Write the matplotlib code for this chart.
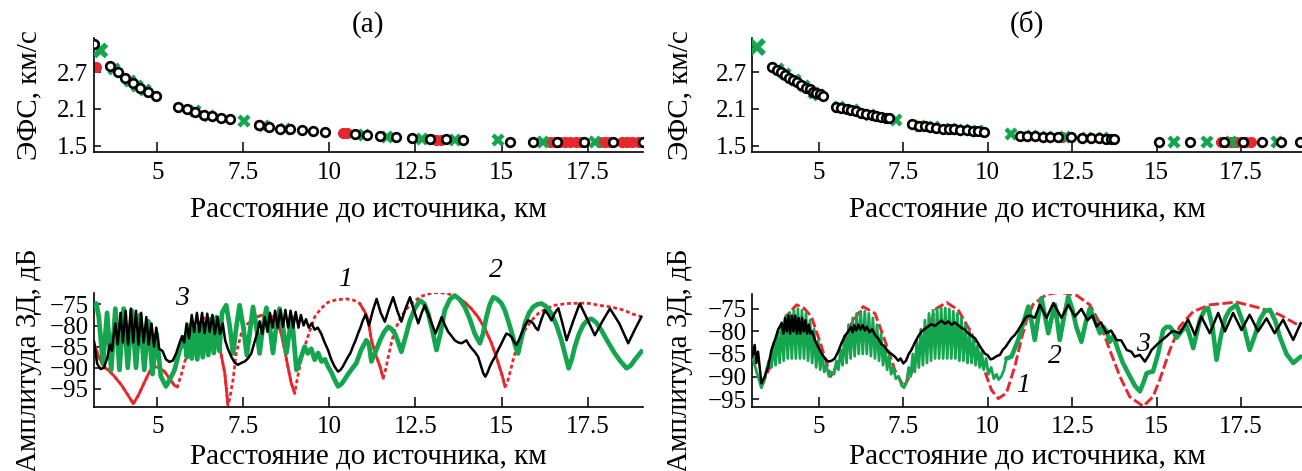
import matplotlib
matplotlib.use("Agg")
import matplotlib.pyplot as plt
import numpy as np

plt.rcParams["font.family"] = ["Liberation Serif", "DejaVu Serif"]
plt.rcParams["axes.unicode_minus"] = True

RED = "#e8262d"
GREEN = "#14a54f"
BLACK = "#000000"

X_TICKS = [5, 7.5, 10, 12.5, 15, 17.5]
X_TICK_LABELS = ["5", "7.5", "10", "12.5", "15", "17.5"]
V_TICKS = [1.5, 2.1, 2.7]
A_TICKS = [-95, -90, -85, -80, -75]
X_LABEL = "Расстояние до источника, км"
V_LABEL = "ЭФС, км/с"
A_LABEL = "Амплитуда ЗД, дБ"

# ---------------- (а) group velocity points ----------------
a_circ_x = [3.15, 3.62, 3.86, 4.07, 4.30, 4.51, 4.73, 4.97,
            5.60, 5.86, 6.10, 6.36, 6.60, 6.86, 7.12,
            7.94, 8.24, 8.55, 8.86, 9.20, 9.53, 9.88,
            10.73, 11.08, 11.47, 11.93, 12.41, 12.92, 13.40, 13.89,
            15.26, 15.92, 16.62, 17.39, 18.24, 19.10]
a_circ_y = [3.17, 2.81, 2.70, 2.60, 2.52, 2.45, 2.38, 2.32,
            2.14, 2.10, 2.05, 2.01, 1.99, 1.96, 1.93,
            1.84, 1.81, 1.78, 1.77, 1.75, 1.74, 1.72,
            1.69, 1.675, 1.66, 1.64, 1.62, 1.61, 1.605, 1.60,
            1.565, 1.565, 1.56, 1.56, 1.555, 1.555]
a_cross_x = [3.33, 3.75, 4.20, 4.42, 4.65, 6.10, 6.50, 7.51, 8.10, 8.70,
             11.00, 11.66, 12.68, 13.64, 14.90, 16.21, 17.71]
a_cross_y = [3.06, 2.76, 2.56, 2.48, 2.41, 2.06, 1.99, 1.90, 1.83, 1.78,
             1.68, 1.65, 1.61, 1.60, 1.59, 1.565, 1.56]
a_dot_x = [3.23, 6.35, 7.95, 8.20, 10.40, 10.52, 12.95, 13.10, 13.25,
           16.40, 16.55, 16.70, 16.85, 17.00, 17.15, 17.30,
           17.85, 18.00, 18.15, 18.50, 18.65, 18.80, 18.95, 19.10]
a_dot_y = [2.79, 2.01, 1.84, 1.82, 1.70, 1.70, 1.605, 1.60, 1.60,
           1.565, 1.565, 1.565, 1.565, 1.56, 1.56, 1.56,
           1.56, 1.56, 1.56, 1.555, 1.555, 1.555, 1.555, 1.555]

# ---------------- (б) group velocity points ----------------
b_circ_x = [3.62, 3.75, 3.88, 3.99, 4.12, 4.24, 4.36, 4.48, 4.61, 4.73, 4.83, 4.93, 5.03, 5.13,
            5.52, 5.67, 5.82, 5.96, 6.11, 6.26, 6.41, 6.56, 6.70, 6.85, 7.00, 7.07,
            7.75, 7.95, 8.13, 8.30, 8.48, 8.66, 8.84, 9.01, 9.19, 9.37, 9.55, 9.72, 9.90,
            10.95, 11.17, 11.40, 11.62, 11.85, 12.08, 12.45, 12.78, 13.05, 13.30, 13.50, 13.65, 13.75,
            15.07, 15.98, 16.99, 17.54, 18.13, 18.69, 19.23]
b_circ_y = [2.78, 2.74, 2.70, 2.66, 2.61, 2.57, 2.54, 2.49, 2.45, 2.42, 2.38, 2.36, 2.34, 2.32,
            2.14, 2.12, 2.10, 2.08, 2.06, 2.03, 2.02, 2.00, 1.99, 1.97, 1.96, 1.95,
            1.85, 1.83, 1.815, 1.80, 1.79, 1.78, 1.77, 1.765, 1.76, 1.75, 1.745, 1.74, 1.73,
            1.665, 1.66, 1.655, 1.65, 1.645, 1.64, 1.635, 1.63, 1.625, 1.62, 1.615, 1.61, 1.61,
            1.565, 1.565, 1.56, 1.56, 1.56, 1.555, 1.555]
b_cross_x = [3.16, 3.80, 4.00, 4.30, 4.55, 4.85, 5.00, 5.60, 6.00, 6.50, 7.27,
             8.00, 8.40, 8.90, 9.30, 9.70, 10.70, 11.30, 11.75, 12.30, 12.95, 13.40,
             15.50, 16.50, 17.20, 18.55]
b_cross_y = [3.12, 2.75, 2.68, 2.57, 2.47, 2.36, 2.33, 2.13, 2.08, 2.01, 1.92,
             1.83, 1.80, 1.78, 1.76, 1.745, 1.69, 1.66, 1.65, 1.64, 1.63, 1.62,
             1.565, 1.565, 1.56, 1.555]
b_dot_x = [9.00, 12.20, 16.90, 17.05, 17.20, 17.35, 17.50, 17.65, 17.80]
b_dot_y = [1.77, 1.64, 1.56, 1.56, 1.56, 1.56, 1.56, 1.56, 1.56]

# ---------------- (а) amplitude curves ----------------
a_red_x = [3.16, 3.30, 3.45, 3.57, 3.75, 3.95, 4.15, 4.30, 4.45, 4.65, 4.80, 4.92, 5.05, 5.20,
           5.35, 5.50, 5.58, 5.70, 5.85, 6.00, 6.15, 6.30, 6.45, 6.60, 6.81, 6.96, 7.05,
           7.10, 7.20, 7.29, 7.44, 7.60, 7.73, 7.88, 8.02, 8.26, 8.40, 8.50, 8.60, 8.70, 8.80,
           8.89, 8.99, 9.08, 9.18, 9.28, 9.42, 9.57, 9.75, 9.96, 10.20, 10.49, 10.70, 10.88,
           11.03, 11.12, 11.22, 11.35, 11.47, 11.56, 11.63, 11.71, 11.80, 11.90, 12.02, 12.14,
           12.30, 12.48, 12.70, 12.97, 13.20, 13.45, 13.70, 13.93, 14.12, 14.32, 14.52, 14.71,
           14.87, 15.00, 15.10, 15.17, 15.24, 15.31, 15.39, 15.52, 15.68, 15.85, 16.06, 16.30,
           16.55, 16.90, 17.32, 17.60, 17.81, 18.10, 18.39, 18.60, 18.77, 18.95, 19.10]
a_red_y = [-84.2, -87.5, -89.8, -90.5, -92.0, -94.0, -96.5, -98.5, -96.5, -93.0, -90.5, -89.7, -90.0, -90.8,
           -92.5, -94.2, -94.5, -91.5, -87.0, -83.0, -80.0, -78.5, -78.0, -79.5, -85.0, -91.3, -98.7,
           -97.5, -92.8, -86.6, -81.9, -79.8, -78.8, -78.0, -77.6, -77.6, -78.2, -79.5, -82.0, -85.8, -90.0,
           -93.6, -96.0, -92.0, -88.0, -85.0, -81.5, -78.0, -76.0, -74.5, -73.9, -73.7, -74.0, -74.8,
           -76.8, -78.5, -83.5, -87.0, -89.7, -92.4, -90.5, -87.4, -84.0, -81.1, -79.0, -77.2,
           -75.5, -74.1, -73.0, -72.3, -72.2, -72.5, -73.2, -74.5, -76.0, -78.0, -80.8, -84.2,
           -88.0, -91.3, -94.4, -93.5, -91.3, -89.0, -86.6, -83.5, -81.1, -79.0, -77.2, -76.0,
           -75.2, -74.8, -74.7, -74.8, -75.2, -75.5, -76.0, -76.5, -77.2, -77.6, -78.0]
# stretches of curve 1 (а) drawn as a continuous line, the rest is dotted
a_red_solid = [(3.10, 5.60), (6.75, 7.06), (7.85, 9.00), (10.85, 11.57), (13.70, 15.11)]

a_grn_x = [3.16, 3.23, 3.30, 3.42, 3.54, 3.66, 3.78, 3.90, 4.02, 4.14, 4.26, 4.38, 4.50,
           4.62, 4.74, 4.86, 4.98, 5.10, 5.25, 5.38, 5.50, 5.58, 5.65, 5.72, 5.79, 5.86,
           5.93, 6.00, 6.08, 6.16, 6.24, 6.32, 6.40, 6.48, 6.56, 6.64, 6.72, 6.80, 6.88,
           7.00, 7.10, 7.20, 7.30, 7.39, 7.50, 7.60, 7.68, 7.78, 7.88, 7.97, 8.07, 8.17,
           8.27, 8.36, 8.45, 8.55, 8.65, 8.75, 8.83, 8.91, 9.04, 9.18, 9.28, 9.37, 9.47,
           9.57, 9.67, 9.77, 9.87, 9.96, 10.05, 10.15, 10.25, 10.35, 10.44, 10.54, 10.63,
           10.78, 10.92, 11.07, 11.15, 11.22, 11.35, 11.47, 11.59, 11.71, 11.80, 11.90,
           12.00, 12.09, 12.20, 12.34, 12.48, 12.63, 12.75, 12.87, 13.00, 13.11, 13.22,
           13.35, 13.50, 13.64, 13.78, 13.93, 14.08, 14.22, 14.37, 14.46, 14.56, 14.66,
           14.76, 14.88, 15.00, 15.10, 15.19, 15.29, 15.39, 15.48, 15.58, 15.68, 15.80,
           15.92, 16.04, 16.16, 16.30, 16.45, 16.60, 16.74, 16.85, 16.95, 17.04, 17.13,
           17.25, 17.37, 17.49, 17.61, 17.75, 17.90, 18.10, 18.29, 18.46, 18.63, 18.75,
           18.87, 19.06]
a_grn_y = [-75.5, -74.8, -78.0, -89.0, -77.0, -90.5, -76.0, -90.5, -76.0, -90.0, -76.5, -90.0, -77.5,
           -90.5, -79.0, -91.5, -82.0, -92.0, -94.4, -92.5, -90.5, -88.0, -85.8, -84.5, -82.7, -87.5,
           -80.0, -87.8, -80.5, -88.0, -79.5, -87.5, -79.5, -87.0, -78.5, -86.5, -78.0, -86.0, -77.0,
           -75.2, -80.0, -86.6, -80.0, -75.2, -80.5, -87.0, -82.0, -75.6, -80.5, -86.6, -80.0, -75.8,
           -80.5, -86.5, -80.5, -76.0, -80.5, -86.5, -82.0, -78.0, -90.5, -87.4, -85.0, -86.6, -85.5,
           -88.1, -86.5, -88.5, -88.0, -89.7, -91.0, -92.8, -94.4, -93.8, -92.8, -91.5, -90.5,
           -88.9, -85.8, -83.5, -84.5, -88.5, -86.0, -83.5, -81.5, -80.3, -80.8, -81.9,
           -84.0, -86.2, -83.0, -78.8, -76.0, -74.1, -74.8, -77.2, -81.5, -85.8, -82.0,
           -76.4, -73.8, -72.9, -73.8, -75.6, -78.5, -81.9, -84.2, -82.0, -78.0, -75.0,
           -73.3, -73.8, -74.8, -76.5, -78.8, -81.5, -84.6, -86.6, -83.0, -79.5, -77.0,
           -75.6, -75.0, -74.8, -75.5, -77.2, -80.0, -83.5, -87.0, -90.1, -88.0, -85.0,
           -82.0, -79.9, -78.8, -78.4, -79.3, -81.1, -84.0, -86.6, -88.5, -90.1, -89.5,
           -88.1, -86.2]

a_blk_x = [3.16, 3.25, 3.35, 3.45, 3.55, 3.62, 3.68, 3.72, 3.78, 3.85, 3.93, 4.00, 4.08,
           4.15, 4.23, 4.30, 4.38, 4.45, 4.53, 4.60, 4.68, 4.75, 4.83, 4.90, 4.97, 5.05,
           5.15, 5.25, 5.35, 5.45, 5.55, 5.65, 5.72, 5.78, 5.85, 5.92, 6.00, 6.07, 6.15,
           6.22, 6.30, 6.37, 6.45, 6.52, 6.60, 6.67, 6.75, 6.82, 6.90, 6.97, 7.05, 7.15,
           7.25, 7.34, 7.45, 7.54, 7.63, 7.73, 7.82, 7.90, 7.97, 8.05, 8.12, 8.20, 8.27,
           8.35, 8.42, 8.50, 8.57, 8.65, 8.72, 8.80, 8.87, 8.95, 9.02, 9.10, 9.17, 9.25,
           9.32, 9.40, 9.48, 9.57, 9.66, 9.76, 9.86, 9.96, 10.05, 10.15, 10.25, 10.32,
           10.39, 10.47, 10.54, 10.61, 10.68, 10.76, 10.83, 10.90, 10.97, 11.05, 11.15,
           11.26, 11.37, 11.49, 11.61, 11.73, 11.85, 11.97, 12.09, 12.21, 12.34, 12.46,
           12.58, 12.68, 12.77, 12.88, 12.97, 13.08, 13.17, 13.26, 13.36, 13.45, 13.55,
           13.64, 13.74, 13.84, 13.92, 13.98, 14.05, 14.13, 14.22, 14.32, 14.40, 14.47,
           14.53, 14.60, 14.66, 14.73, 14.81, 14.90, 15.00, 15.07, 15.14, 15.22, 15.29,
           15.36, 15.43, 15.50, 15.58, 15.68, 15.77, 15.85, 15.92, 15.99, 16.06, 16.16,
           16.26, 16.36, 16.45, 16.55, 16.65, 16.77, 16.89, 17.08, 17.27, 17.49, 17.71,
           17.93, 18.15, 18.42, 18.68, 18.87, 19.06]
a_blk_y = [-83.8, -89.0, -90.3, -90.0, -87.5, -84.5, -86.0, -83.0, -79.5, -84.5, -77.0, -84.0, -76.5,
           -84.5, -76.0, -84.0, -76.5, -84.5, -77.0, -84.0, -78.0, -84.5, -79.5, -85.0, -80.5, -85.5,
           -86.0, -88.0, -88.6, -88.3, -86.5, -84.0, -82.5, -84.0, -79.5, -83.0, -77.5, -81.5, -77.0,
           -81.5, -77.0, -81.8, -77.2, -81.5, -77.5, -82.0, -78.0, -82.0, -79.5, -83.5, -85.5, -87.4,
           -88.8, -89.3, -88.8, -88.5, -87.8, -86.6, -84.0, -81.9, -79.0, -82.0, -78.0, -81.5, -77.0,
           -80.5, -76.5, -80.5, -76.3, -80.3, -76.3, -80.5, -76.5, -80.5, -76.8, -80.5, -77.5, -80.0,
           -78.5, -80.5, -79.5, -81.0, -80.5, -81.9, -84.0, -85.8, -88.0, -89.7, -90.9, -90.5,
           -89.7, -88.5, -87.4, -86.5, -85.0, -83.5, -81.9, -80.5, -78.8, -77.4, -80.0,
           -76.5, -73.7, -77.0, -79.1, -76.0, -73.3, -76.5, -79.1, -76.0, -73.3, -76.5,
           -79.5, -77.0, -75.2, -77.5, -79.5, -81.9, -80.0, -78.0, -80.0, -81.5, -82.5,
           -83.5, -84.0, -84.2, -83.8, -83.5, -84.5, -85.4, -86.2, -87.4, -89.5, -91.3,
           -92.1, -91.0, -89.7, -88.5, -87.4, -85.8, -84.2, -83.0, -81.9, -82.2, -82.7,
           -83.8, -84.6, -83.5, -81.9, -80.0, -78.8, -79.0, -79.5, -80.5, -81.1, -78.5,
           -76.4, -77.5, -78.8, -77.0, -75.9, -79.5, -83.5, -79.0, -74.8, -78.5, -82.3,
           -79.0, -76.0, -79.5, -84.2, -81.0, -78.0]

# ---------------- (б) amplitude curves ----------------
b_red_x = [3.30, 3.55, 3.80, 4.05, 4.34, 4.55, 4.78, 5.08, 5.35, 5.67, 5.97, 6.31, 6.66, 6.95,
           7.25, 7.52, 7.84, 8.19, 8.48, 8.78, 9.12, 9.52, 9.86, 10.11, 10.31, 10.55, 10.80,
           11.00, 11.15, 11.34, 11.74, 12.13, 12.63, 13.02, 13.32, 13.61, 13.91, 14.20, 14.60,
           14.89, 15.09, 15.39, 15.68, 16.08, 16.57, 17.36, 18.05, 18.64, 19.26]
b_red_y = [-92.0, -88.0, -81.5, -76.5, -74.1, -74.8, -76.7, -83.4, -90.0, -85.6, -78.2, -74.5, -76.0, -81.9,
           -88.6, -92.3, -87.8, -79.7, -74.9, -73.6, -75.2, -80.4, -87.8, -93.0, -94.9, -93.7, -87.8,
           -81.5, -77.5, -74.0, -71.8, -71.3, -72.0, -74.1, -78.2, -84.1, -90.0, -94.5, -96.6,
           -94.5, -90.7, -84.1, -78.9, -75.6, -74.1, -73.5, -74.8, -76.3, -78.9]

b_grn_x = [3.05, 3.12, 3.20, 3.30, 3.38, 3.45, 3.52, 3.60, 3.66, 3.72, 3.78, 3.84, 3.90,
           3.96, 4.02, 4.08, 4.14, 4.20, 4.26, 4.32, 4.38, 4.44, 4.50, 4.56, 4.62, 4.68,
           4.74, 4.80, 4.86, 4.92, 4.98, 5.04, 5.10, 5.16, 5.22, 5.30, 5.38, 5.45, 5.52,
           5.58, 5.64, 5.70, 5.76, 5.82, 5.88, 5.94, 6.00, 6.06, 6.12, 6.18, 6.24, 6.30,
           6.36, 6.42, 6.48, 6.54, 6.60, 6.66, 6.72, 6.78, 6.84, 6.90, 6.96, 7.02, 7.08,
           7.14, 7.20, 7.28, 7.36, 7.45, 7.52, 7.60, 7.66, 7.72, 7.78, 7.84, 7.90, 7.96,
           8.02, 8.08, 8.14, 8.20, 8.26, 8.32, 8.38, 8.44, 8.50, 8.56, 8.62, 8.68, 8.74,
           8.80, 8.86, 8.92, 8.98, 9.04, 9.10, 9.16, 9.22, 9.28, 9.34, 9.40, 9.46, 9.52,
           9.58, 9.64, 9.70, 9.76, 9.82, 9.88, 9.95, 10.02, 10.10, 10.18, 10.26, 10.32,
           10.40, 10.48, 10.55, 10.70, 10.90, 11.05, 11.20, 11.30, 11.39, 11.49, 11.59,
           11.69, 11.79, 11.89, 11.99, 12.06, 12.13, 12.25, 12.38, 12.50, 12.62, 12.77,
           12.90, 13.02, 13.17, 13.32, 13.42, 13.52, 13.61, 13.72, 13.85, 14.00, 14.20,
           14.35, 14.50, 14.60, 14.70, 14.80, 14.89, 15.04, 15.19, 15.29, 15.39, 15.49,
           15.59, 15.73, 15.88, 15.98, 16.08, 16.18, 16.28, 16.40, 16.52, 16.65, 16.77,
           16.90, 17.03, 17.16, 17.36, 17.55, 17.75, 17.90, 18.05, 18.20, 18.35, 18.50,
           18.64, 18.84, 19.04, 19.26]
b_grn_y = [-86.0, -88.0, -90.0, -92.5, -91.0, -88.5, -86.5, -88.0, -82.5, -87.5, -80.0, -87.0, -78.0,
           -86.5, -76.5, -86.0, -75.8, -86.0, -75.3, -86.0, -75.0, -86.0, -75.3, -86.0, -76.0, -86.5,
           -77.5, -87.0, -79.5, -88.0, -82.0, -88.5, -85.0, -89.0, -87.5, -90.0, -89.0, -89.5, -86.5,
           -88.5, -84.0, -87.5, -81.0, -87.0, -78.5, -86.0, -77.0, -85.5, -76.0, -85.0, -75.5, -85.0,
           -75.5, -85.0, -76.0, -85.5, -77.0, -86.0, -78.5, -86.5, -80.5, -87.5, -83.0, -88.5, -85.5,
           -89.5, -88.0, -90.5, -90.0, -92.0, -92.5, -91.0, -88.0, -90.0, -85.0, -89.0, -82.0, -88.0,
           -79.5, -87.5, -77.5, -87.0, -76.0, -86.5, -75.3, -86.0, -75.0, -86.0, -74.8, -86.0, -74.8,
           -86.0, -75.0, -86.0, -75.5, -86.0, -76.0, -86.5, -77.0, -86.5, -78.5, -87.0, -80.0, -87.0,
           -81.5, -87.5, -83.0, -88.0, -84.5, -88.5, -86.0, -89.5, -88.0, -90.5, -89.5, -90.7,
           -90.0, -88.5, -86.0, -85.6, -81.9, -78.2, -74.5, -78.0, -81.9, -77.0, -72.6,
           -76.5, -80.4, -77.0, -74.1, -78.0, -81.9, -77.0, -72.3, -75.0, -79.0, -82.3,
           -78.0, -74.9, -77.5, -80.4, -79.0, -80.0, -82.3, -81.0, -84.0, -87.0, -89.9,
           -92.0, -93.3, -91.5, -89.3, -89.0, -88.9, -85.0, -79.7, -79.0, -79.0, -80.0,
           -81.4, -80.0, -78.7, -81.0, -83.7, -80.5, -77.4, -75.5, -74.8, -79.0, -86.3,
           -81.0, -77.0, -75.2, -74.1, -78.0, -84.1, -81.0, -77.4, -75.5, -75.2, -77.5,
           -81.1, -85.0, -87.0, -85.6]
# distance beyond which curve 2 (б) is drawn with the heavier stroke
b_grn_split = 10.55

b_blk_x = [3.03, 3.10, 3.15, 3.20, 3.30, 3.40, 3.50, 3.60, 3.70, 3.80, 3.90, 3.95, 4.00, 4.05,
           4.10, 4.15, 4.20, 4.25, 4.30, 4.35, 4.40, 4.45, 4.50, 4.55, 4.60, 4.65, 4.70, 4.75,
           4.80, 4.88, 5.08, 5.18, 5.28, 5.38, 5.47, 5.57, 5.67, 5.77, 5.87, 5.95, 6.00, 6.05,
           6.11, 6.17, 6.23, 6.30, 6.36, 6.42, 6.50, 6.58, 6.66, 6.75, 6.85, 6.95, 7.05, 7.15,
           7.25, 7.35, 7.42, 7.50, 7.58, 7.66, 7.74, 7.84, 7.94, 8.04, 8.13, 8.23, 8.33, 8.43,
           8.53, 8.63, 8.73, 8.83, 8.93, 9.02, 9.12, 9.22, 9.32, 9.42, 9.52, 9.62, 9.71, 9.81,
           9.91, 10.00, 10.08, 10.16, 10.26, 10.36, 10.45, 10.52, 10.60, 10.70, 10.80, 10.90,
           11.00, 11.14, 11.25, 11.39, 11.54, 11.74, 11.94, 12.18, 12.38, 12.58, 12.77, 12.95,
           13.10, 13.22, 13.35, 13.51, 13.65, 13.81, 13.95, 14.11, 14.25, 14.35, 14.50, 14.65,
           14.75, 14.85, 15.05, 15.29, 15.45, 15.54, 15.68, 15.93, 16.13, 16.32, 16.57, 16.82,
           17.02, 17.26, 17.51, 17.75, 18.00, 18.25, 18.49, 18.74, 19.04, 19.26]
b_blk_y = [-85.6, -83.0, -87.0, -84.5, -91.5, -90.0, -87.8, -84.0, -81.9, -79.5, -78.2, -80.5, -77.0, -80.0,
           -76.5, -80.5, -76.5, -80.0, -76.5, -80.5, -77.0, -80.5, -77.0, -80.0, -77.5, -80.5, -78.5, -80.5,
           -80.0, -81.9, -84.9, -86.0, -86.7, -86.5, -86.0, -84.5, -82.6, -81.0, -80.0, -79.0, -80.2, -78.6,
           -79.8, -78.5, -79.6, -78.6, -79.8, -79.0, -80.2, -79.5, -80.8, -81.5, -82.8, -83.4, -84.5, -85.0,
           -85.6, -86.5, -86.0, -87.1, -86.5, -85.0, -84.1, -82.5, -81.1, -80.0, -79.5, -78.9, -78.4, -78.8,
           -78.2, -77.6, -78.3, -77.8, -78.5, -78.0, -78.6, -79.2, -79.6, -80.4, -81.0, -81.5, -82.6, -83.8,
           -84.9, -85.3, -86.2, -86.0, -85.5, -85.2, -84.0, -83.5, -82.6, -81.5, -80.8, -79.7,
           -78.5, -76.7, -76.5, -77.0, -74.1, -77.0, -73.7, -77.0, -74.1, -76.7, -75.0, -77.5,
           -76.5, -78.9, -78.0, -80.4, -79.8, -81.9, -82.0, -84.1, -84.5, -85.6, -85.2, -86.7,
           -85.5, -84.1, -82.6, -81.1, -80.0, -80.0, -80.4, -77.4, -80.8, -76.7, -80.4, -75.9,
           -80.0, -75.9, -79.7, -76.3, -80.0, -77.1, -80.4, -77.4, -81.9, -78.2]

fig = plt.figure(figsize=(13.02, 4.71), dpi=100)
ax_va = fig.add_axes([0.0722, 0.6766, 0.4214, 0.2427])
ax_vb = fig.add_axes([0.5778, 0.6766, 0.4222, 0.2427])
ax_aa = fig.add_axes([0.0722, 0.1365, 0.4214, 0.2415])
ax_ab = fig.add_axes([0.5778, 0.1365, 0.4222, 0.2393])

FS_TICK = 18
FS_LAB = 21


def style(ax, xlim, ylim, yticks, ylabel, labelpad):
    ax.set_xlim(*xlim)
    ax.set_ylim(*ylim)
    for side in ("top", "right"):
        ax.spines[side].set_visible(False)
    for side in ("left", "bottom"):
        ax.spines[side].set_linewidth(1.2)
    ax.set_xticks(X_TICKS)
    ax.set_xticklabels(X_TICK_LABELS)
    ax.set_yticks(yticks)
    ax.tick_params(axis="x", direction="in", length=7, width=1.1, labelsize=FS_TICK, pad=7)
    ax.tick_params(axis="y", direction="in", length=5, width=1.1, labelsize=FS_TICK, pad=4)
    ax.set_xlabel(X_LABEL, fontsize=FS_LAB, labelpad=labelpad)
    ax.set_ylabel(ylabel, fontsize=FS_LAB)


def velocity(ax, cx, cy, gx, gy, rx, ry):
    ax.plot(rx, ry, linestyle="none", marker="o", markersize=7, color=RED,
            markeredgecolor=RED, zorder=2)
    ax.plot(gx, gy, linestyle="none", marker="x", markersize=7, markeredgewidth=3.2,
            color=GREEN, zorder=3)
    ax.plot(cx, cy, linestyle="none", marker="o", markersize=6.2, markerfacecolor="white",
            markeredgecolor=BLACK, markeredgewidth=1.9, zorder=4)


velocity(ax_va, a_circ_x, a_circ_y, a_cross_x, a_cross_y, a_dot_x, a_dot_y)
velocity(ax_vb, b_circ_x, b_circ_y, b_cross_x, b_cross_y, b_dot_x, b_dot_y)
# larger crosses at the start of each series
ax_va.plot(a_cross_x[:1], a_cross_y[:1], linestyle="none", marker="x", markersize=9,
           markeredgewidth=3.8, color=GREEN, zorder=3)
ax_vb.plot(b_cross_x[:1], b_cross_y[:1], linestyle="none", marker="x", markersize=10,
           markeredgewidth=4.0, color=GREEN, zorder=3)

style(ax_va, (3.16, 19.1), (1.392, 3.26), V_TICKS, V_LABEL, 9)
style(ax_vb, (3.03, 19.3), (1.392, 3.26), V_TICKS, V_LABEL, 9)

# curve 1 (а): dotted everywhere, continuous over the falling stretches
rx = np.array(a_red_x)
ry = np.array(a_red_y)
ax_aa.plot(rx, ry, color=RED, linewidth=2.0, linestyle=(0, (1.4, 1.0)), zorder=2)
for lo, hi in a_red_solid:
    m = (rx >= lo) & (rx <= hi)
    ax_aa.plot(rx[m], ry[m], color=RED, linewidth=2.0, zorder=2)
ax_aa.plot(a_grn_x, a_grn_y, color=GREEN, linewidth=3.4, zorder=3, solid_joinstyle="round")
ax_aa.plot(a_blk_x, a_blk_y, color=BLACK, linewidth=1.8, zorder=4)

ax_ab.plot(b_red_x, b_red_y, color=RED, linewidth=2.1, linestyle=(0, (3.5, 1.2)), zorder=2)
gx = np.array(b_grn_x)
gy = np.array(b_grn_y)
fast = gx <= b_grn_split
ax_ab.plot(gx[fast], gy[fast], color=GREEN, linewidth=2.0, zorder=3, solid_joinstyle="round")
slow = gx >= b_grn_split
ax_ab.plot(gx[slow], gy[slow], color=GREEN, linewidth=3.3, zorder=3, solid_joinstyle="round",
           solid_capstyle="round")
ax_ab.plot(b_blk_x, b_blk_y, color=BLACK, linewidth=1.8, zorder=4)

style(ax_aa, (3.16, 19.1), (-99.2, -72.3), A_TICKS, A_LABEL, 3.5)
style(ax_ab, (3.03, 19.3), (-96.7, -71.7), A_TICKS, A_LABEL, 3.5)

ax_va.yaxis.set_label_coords(-0.095, 0.5)
ax_aa.yaxis.set_label_coords(-0.095, 0.41)
ax_vb.yaxis.set_label_coords(-0.108, 0.5)
ax_ab.yaxis.set_label_coords(-0.108, 0.41)

ax_va.set_title("(а)", fontsize=FS_LAB, pad=3)
ax_vb.set_title("(б)", fontsize=FS_LAB, pad=3)

FS_NUM = 20
ax_aa.text(5.72, -73.6, "3", fontsize=FS_NUM, style="italic", ha="center", va="center")
ax_aa.text(10.46, -69.2, "1", fontsize=FS_NUM, style="italic", ha="center", va="center", clip_on=False)
ax_aa.text(14.83, -67.0, "2", fontsize=FS_NUM, style="italic", ha="center", va="center", clip_on=False)
ax_ab.text(11.04, -91.9, "1", fontsize=FS_NUM, style="italic", ha="center", va="center")
ax_ab.text(11.98, -85.6, "2", fontsize=FS_NUM, style="italic", ha="center", va="center")
ax_ab.text(14.60, -82.8, "3", fontsize=FS_NUM, style="italic", ha="center", va="center")

fig.savefig("out.png", dpi=100)
